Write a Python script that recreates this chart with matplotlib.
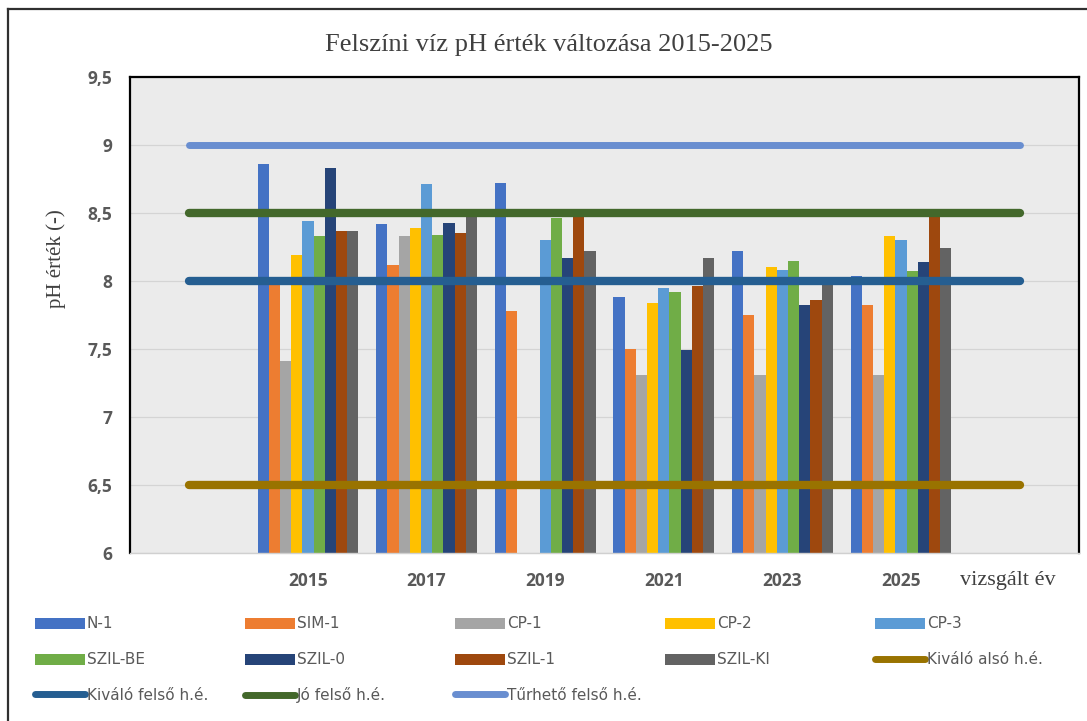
import numpy as np
import matplotlib
matplotlib.use('Agg')
from matplotlib import pyplot as plt
from matplotlib.lines import Line2D
from matplotlib.patches import Patch

# --- adatok ---
categories = ['', '2015', '2017', '2019', '2021', '2023', '2025', '']
years = ['2015', '2017', '2019', '2021', '2023', '2025']

series_names = ['N-1', 'SIM-1', 'CP-1', 'CP-2', 'CP-3',
                'SZIL-BE', 'SZIL-0', 'SZIL-1', 'SZIL-KI']
n1 = [8.86, 8.42, 8.72, 7.88, 8.22, 8.04]
sim1 = [7.98, 8.12, 7.78, 7.50, 7.75, 7.82]
cp1 = [7.41, 8.33, np.nan, 7.31, 7.31, 7.31]
cp2 = [8.19, 8.39, np.nan, 7.84, 8.10, 8.33]
cp3 = [8.44, 8.71, 8.30, 7.95, 8.08, 8.30]
szil_be = [8.33, 8.34, 8.46, 7.92, 8.15, 8.07]
szil_0 = [8.83, 8.43, 8.17, 7.49, 7.82, 8.14]
szil_1 = [8.37, 8.35, 8.47, 7.96, 7.86, 8.48]
szil_ki = [8.37, 8.48, 8.22, 8.17, 7.98, 8.24]
series_values = [n1, sim1, cp1, cp2, cp3, szil_be, szil_0, szil_1, szil_ki]
series_colors = ['#4472C4', '#ED7D31', '#A5A5A5', '#FFC000', '#5B9BD5',
                 '#70AD47', '#264478', '#9E480E', '#636363']

limit_names = ['Kiváló alsó h.é.', 'Kiváló felső h.é.', 'Jó felső h.é.', 'Tűrhető felső h.é.']
limit_values = [6.5, 8.0, 8.5, 9.0]
limit_colors = ['#997300', '#255E91', '#43682B', '#698ED0']
limit_widths = [6.0, 6.0, 6.0, 5.0]

y_ticks = [6, 6.5, 7, 7.5, 8, 8.5, 9, 9.5]

W, H = 1087, 721
fig = plt.figure(figsize=(W / 100, H / 100), dpi=100)
ax = fig.add_axes([130 / W, 1 - 553 / H, (1079 - 130) / W, (553 - 77) / H])
ax.set_facecolor('#EBEBEB')

x = np.arange(len(categories))
year_x = x[1:1 + len(years)]
group_w = 0.85
bar_w = group_w / len(series_names)

# --- oszlopok ---
for i, (vals, col) in enumerate(zip(series_values, series_colors)):
    offs = -group_w / 2 + bar_w * (i + 0.5)
    ax.bar(year_x + offs, np.array(vals) - 6, bottom=6, width=bar_w,
           color=col, zorder=2)

# --- határértékek ---
for val, col, lw in zip(limit_values, limit_colors, limit_widths):
    ax.plot(x, [val] * len(x), color=col, lw=lw, solid_capstyle='round', zorder=3)

ax.set_xlim(-0.5, len(categories) - 0.5)
ax.set_ylim(6, 9.5)
ax.set_yticks(y_ticks)
ax.set_yticklabels([f'{v:g}'.replace('.', ',') for v in y_ticks])
ax.set_xticks(x)
ax.set_xticklabels(categories)
ax.grid(axis='y', color='#D4D4D4', lw=0.9, zorder=0)
ax.set_axisbelow(True)
ax.tick_params(length=0)
ax.tick_params(axis='y', pad=13)
ax.tick_params(axis='x', pad=14)
for lab in ax.get_xticklabels() + ax.get_yticklabels():
    lab.set_fontfamily('Open Sans')
    lab.set_fontweight('bold')
    lab.set_fontsize(12.5)
    lab.set_color('#595959')

for side in ['left', 'top', 'right']:
    ax.spines[side].set_color('black')
    ax.spines[side].set_linewidth(1.6)
ax.spines['bottom'].set_color('#D0D0D0')
ax.spines['bottom'].set_linewidth(1.0)

# --- feliratok ---
fig.text(549 / W, 1 - 45 / H, 'Felszíni víz pH érték változása 2015-2025',
         ha='center', va='center', family='Liberation Serif', fontsize=19,
         color='#404040')
fig.text(56 / W, 1 - 259 / H, 'pH érték (-)', rotation=90, ha='center',
         va='center', family='Liberation Serif', fontsize=15, color='#404040')
fig.text(1008 / W, 1 - 581 / H, 'vizsgált év', ha='center', va='center',
         family='Liberation Serif', fontsize=16, color='#404040')

# külső keret
fig.add_artist(Line2D([8 / W, 1.01], [1 - 9 / H, 1 - 9 / H], color='#303030', lw=1.6))
fig.add_artist(Line2D([8 / W, 8 / W], [1 - 9 / H, -0.01], color='#303030', lw=1.6))

# --- jelmagyarázat (5 oszlop, soronként) ---
handles = [Patch(facecolor=c, edgecolor='none') for c in series_colors]
handles += [Line2D([0], [0], color=c, lw=5, solid_capstyle='round') for c in limit_colors]
labels = series_names + limit_names
col_x = [35, 245, 455, 665, 875]
row_y = [624, 660, 695]
for k, (h, lab) in enumerate(zip(handles, labels)):
    r, c = divmod(k, 5)
    fig.legend([h], [lab], loc='center left',
               bbox_to_anchor=(col_x[c] / W, 1 - row_y[r] / H),
               frameon=False, borderpad=0, borderaxespad=0,
               handlelength=3.3, handleheight=0.75, handletextpad=0.1,
               prop={'family': 'DejaVu Sans', 'size': 11},
               labelcolor='#595959')

fig.savefig('out.png', dpi=100)
